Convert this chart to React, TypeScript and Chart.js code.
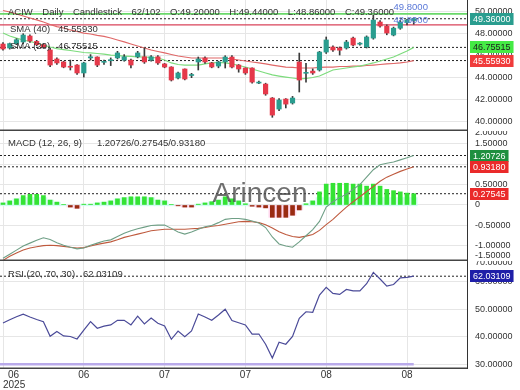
import React, { useEffect, useRef } from 'react';
import { Chart, registerables } from 'chart.js';

Chart.register(...registerables);

// ---------------- data ----------------
const SYMBOL = 'ACIW';
const PERIOD = 'Daily';
const CHART_KIND = 'Candlestick';
const TOTAL_BARS = 102;

const CANDLE_OPEN = [47.06, 46.7, 47.1, 47.25, 47.79, 47.3, 47.0, 46.52, 45.7, 45.43, 45.0, 45.15, 44.43, 45.8, 45.88, 45.4, 45.55, 45.8, 45.6, 45.6, 45.9, 45.9, 45.6, 45.9, 45.25, 44.97, 43.97, 44.79, 44.2, 45.43, 45.79, 45.34, 45.06, 45.43, 45.88, 45.15, 44.88, 44.88, 43.51, 43.42, 42.15, 41.15, 42.06, 41.7, 45.43, 44.4, 44.6, 44.7, 46.33, 46.79, 46.7, 46.7, 47.6, 47.05, 46.8, 47.6, 49.06, 48.7, 47.88, 48.5, 49.0, 49.2];
const CANDLE_HIGH = [47.2, 47.15, 47.55, 48.0, 47.9, 47.4, 47.1, 46.7, 45.8, 45.5, 45.6, 45.2, 45.4, 46.1, 45.9, 45.6, 45.8, 46.4, 46.1, 45.7, 46.4, 46.7, 46.0, 46.0, 45.3, 45.0, 44.5, 44.8, 44.4, 45.88, 45.9, 45.4, 45.5, 46.0, 46.0, 45.2, 44.9, 44.9, 43.7, 43.5, 42.2, 42.1, 42.1, 42.3, 46.24, 45.3, 44.8, 46.4, 47.7, 46.9, 46.8, 47.4, 47.7, 47.2, 47.8, 49.7, 49.2, 48.8, 48.6, 49.2, 49.3, 49.44];
const CANDLE_LOW = [46.5, 46.6, 47.0, 47.1, 47.2, 46.9, 46.7, 45.0, 45.2, 44.9, 44.7, 44.3, 44.06, 45.6, 45.0, 45.2, 45.1, 45.7, 45.5, 44.9, 45.8, 45.3, 45.5, 45.2, 44.9, 43.7, 43.9, 43.8, 44.0, 44.7, 45.3, 44.9, 44.9, 44.88, 44.9, 44.5, 44.3, 43.5, 43.45, 42.4, 40.4, 41.0, 41.25, 41.6, 42.7, 43.6, 44.3, 44.6, 46.2, 46.4, 46.06, 46.6, 46.9, 46.95, 46.7, 47.5, 48.6, 47.9, 47.8, 48.4, 48.8, 48.86];
const CANDLE_CLOSE = [46.61, 47.1, 47.45, 47.88, 47.34, 47.0, 46.8, 45.15, 45.34, 44.97, 44.95, 44.43, 45.34, 45.9, 45.15, 45.45, 45.6, 46.25, 45.9, 45.15, 46.25, 45.43, 45.9, 45.34, 44.97, 43.79, 44.43, 43.88, 44.25, 45.7, 45.43, 44.97, 45.43, 45.88, 44.97, 44.79, 44.43, 43.6, 43.6, 42.52, 40.6, 41.97, 41.6, 42.15, 43.79, 44.45, 44.43, 46.33, 47.43, 46.52, 46.5, 47.24, 46.97, 47.1, 47.7, 49.24, 48.7, 48.06, 48.5, 49.06, 49.25, 49.36];

const SMA20 = [48.06, 47.79, 47.6, 47.43, 47.29, 47.15, 46.97, 46.79, 46.65, 46.56, 46.47, 46.38, 46.29, 46.25, 46.2, 46.15, 46.06, 46.02, 45.97, 45.93, 45.88, 45.88, 45.84, 45.79, 45.61, 45.34, 45.2, 45.15, 45.15, 45.15, 45.25, 45.34, 45.38, 45.34, 45.25, 45.11, 44.97, 44.79, 44.61, 44.43, 44.25, 44.15, 44.06, 43.97, 43.88, 43.93, 44.02, 44.15, 44.43, 44.7, 44.79, 44.88, 44.97, 45.06, 45.2, 45.34, 45.52, 45.7, 45.88, 46.15, 46.43, 46.75515];
const SMA40 = [50.11, 49.97, 49.79, 49.61, 49.43, 49.25, 49.06, 48.84, 48.65, 48.52, 48.34, 48.2, 48.06, 47.97, 47.84, 47.75, 47.61, 47.43, 47.25, 47.06, 46.88, 46.7, 46.52, 46.38, 46.25, 46.11, 45.97, 45.88, 45.79, 45.79, 45.79, 45.79, 45.79, 45.79, 45.7, 45.61, 45.52, 45.43, 45.34, 45.25, 45.15, 45.06, 44.97, 44.93, 44.88, 44.88, 44.88, 44.93, 44.97, 44.97, 45.02, 45.02, 45.06, 45.06, 45.11, 45.15, 45.2, 45.25, 45.29, 45.34, 45.43, 45.5593];

const LEVEL_HIGH = 49.8;
const LEVEL_LOW = 48.8;

const MACD_LINE = [-1.3, -1.2, -1.1, -1.0, -0.93, -0.86, -0.8, -0.84, -0.92, -0.98, -1.03, -1.07, -1.05, -0.98, -0.93, -0.88, -0.85, -0.77, -0.69, -0.63, -0.58, -0.54, -0.5, -0.49, -0.49, -0.57, -0.66, -0.71, -0.66, -0.59, -0.53, -0.5, -0.43, -0.35, -0.33, -0.33, -0.35, -0.39, -0.44, -0.55, -0.78, -0.95, -1.0, -1.03, -0.9, -0.75, -0.6, -0.4, -0.05, 0.08, 0.18, 0.26, 0.38, 0.5, 0.68, 0.86, 0.98, 1.02, 1.05, 1.1, 1.15, 1.20726];
const MACD_SIGNAL = [-1.35, -1.25, -1.17, -1.1, -1.05, -1.02, -0.99, -0.98, -0.99, -1.01, -1.03, -1.05, -1.04, -1.0, -0.96, -0.93, -0.9, -0.85, -0.79, -0.75, -0.71, -0.67, -0.63, -0.61, -0.59, -0.59, -0.59, -0.59, -0.58, -0.57, -0.55, -0.52, -0.5, -0.47, -0.44, -0.41, -0.4, -0.41, -0.43, -0.48, -0.56, -0.65, -0.72, -0.77, -0.79, -0.76, -0.72, -0.62, -0.48, -0.35, -0.2, -0.05, 0.08, 0.2, 0.33, 0.45, 0.58, 0.68, 0.75, 0.82, 0.88, 0.9318];
const MACD_HIST = [0.05, 0.1, 0.15, 0.23, 0.26, 0.26, 0.23, 0.12, 0.07, 0.01, -0.05, -0.08, 0.02, 0.02, 0.05, 0.07, 0.1, 0.15, 0.18, 0.2, 0.2, 0.2, 0.18, 0.12, 0.1, 0.01, -0.02, -0.05, -0.05, 0.02, 0.05, 0.08, 0.12, 0.2, 0.15, 0.1, 0.03, -0.03, -0.05, -0.07, -0.3, -0.3, -0.3, -0.25, -0.12, 0.03, 0.1, 0.32, 0.51, 0.53, 0.53, 0.53, 0.51, 0.51, 0.46, 0.51, 0.46, 0.38, 0.35, 0.32, 0.29, 0.27545];
const MACD_PARAMS = '12, 26, 9';
const MACD_EDGE_TICKS = [2.0, -1.5];

const RSI = [45.0, 46.2, 47.3, 48.2, 47.2, 46.3, 45.5, 40.2, 41.9, 40.3, 40.1, 39.2, 42.4, 45.5, 43.1, 43.9, 44.3, 46.0, 46.0, 44.3, 47.5, 44.7, 46.8, 44.9, 43.9, 39.1, 42.1, 40.0, 42.1, 48.3, 47.2, 46.0, 47.9, 50.0, 45.9, 45.1, 44.3, 41.0, 41.0, 37.3, 32.3, 38.0, 37.3, 40.1, 46.7, 49.1, 48.9, 55.2, 58.0, 55.8, 55.4, 57.2, 56.7, 56.7, 59.3, 63.4, 61.0, 58.4, 59.0, 61.4, 61.6, 62.03109];
const RSI_PARAMS = '20, 70, 30';
const RSI_LOWER = 30;
const RSI_EDGE_TICKS = [70];

const X_TICK_INDEX = [0, 12, 24, 36, 48, 60];
const X_TICK_LABELS = ['06', '06', '07', '07', '08', '08'];
const YEAR_LABEL = '2025';
const WATERMARK = 'Arincen';

// ---------------- styling ----------------
const FONT = '"Liberation Sans", Arial, sans-serif';
const GRID = '#e6e6e6';
const TEXT = '#333333';
const UP = '#2a9d8f';
const DOWN = '#e5394a';
const AXIS_W = 53;
const X_MIN = -0.4456;
const X_MAX = 68.91;

const INDEX = CANDLE_CLOSE.map((_, i) => i);
const LAST = INDEX.length - 1;
const f5 = (v: number) => v.toFixed(5);
const pts = (arr: number[]) => arr.map((y, i) => ({ x: i, y }));
const hline = (v: number, x1: number = X_MAX) => [{ x: X_MIN, y: v }, { x: x1, y: v }];

function dashed(v: number, axis: string) {
  return {
    type: 'line', data: hline(v), borderColor: '#222', borderWidth: 1, borderDash: [2, 2],
    pointRadius: 0, yAxisID: axis, order: 5,
  };
}

function baseX(height: number) {
  return {
    type: 'linear', min: X_MIN, max: X_MAX, offset: false,
    grid: { color: GRID, drawTicks: false, offset: false },
    border: { display: false },
    ticks: { display: false },
    afterBuildTicks: (s: any) => { s.ticks = X_TICK_INDEX.map((v) => ({ value: v })); },
    afterFit: (s: any) => { s.height = height; s.paddingLeft = 0; s.paddingRight = 0; },
  };
}

function baseY(min: number, max: number, step: number, fmt: (v: number) => string) {
  return {
    type: 'linear', position: 'right', min, max, beginAtZero: false,
    grid: { color: GRID, drawTicks: false },
    border: { display: true, color: '#333', width: 1 },
    ticks: {
      stepSize: step, includeBounds: false, padding: 8, color: TEXT, autoSkip: false,
      font: { family: FONT, size: 9 }, callback: (v: any) => fmt(Number(v)),
    },
    afterFit: (s: any) => { s.width = AXIS_W; s.paddingTop = 0; s.paddingBottom = 0; },
  };
}

function drawRow(ctx: CanvasRenderingContext2D, x: number, y: number, items: string[], gap: number) {
  ctx.font = `9.5px ${FONT}`;
  ctx.fillStyle = TEXT;
  ctx.textAlign = 'left';
  ctx.textBaseline = 'middle';
  let cx = x;
  items.forEach((t) => {
    ctx.fillText(t, cx, y);
    cx += ctx.measureText(t).width + gap;
  });
}

function valueBox(ctx: CanvasRenderingContext2D, x: number, y: number, text: string, bg: string, fg: string) {
  ctx.font = `9px ${FONT}`;
  const w = ctx.measureText(text).width + 6;
  ctx.fillStyle = bg;
  ctx.fillRect(x, Math.round(y) - 6, w, 12);
  ctx.fillStyle = fg;
  ctx.textAlign = 'left';
  ctx.textBaseline = 'middle';
  ctx.fillText(text, x + 3, Math.round(y) + 0.5);
}

function separator(ctx: CanvasRenderingContext2D, area: any, y: number) {
  ctx.strokeStyle = '#444';
  ctx.lineWidth = 1.4;
  ctx.beginPath();
  ctx.moveTo(area.left, y);
  ctx.lineTo(area.right, y);
  ctx.stroke();
}

function edgeLabels(ctx: CanvasRenderingContext2D, chart: any, values: number[]) {
  const area = chart.chartArea;
  const ya = chart.scales.y;
  ctx.font = `9px ${FONT}`;
  ctx.fillStyle = TEXT;
  ctx.textAlign = 'left';
  ctx.textBaseline = 'middle';
  values.forEach((v) => {
    const p = Math.min(Math.max(ya.getPixelForValue(v), area.top + 2), area.bottom - 5);
    ctx.fillText(f5(v), area.right + 8, p);
  });
}

const commonOptions = {
  animation: false, responsive: false, maintainAspectRatio: false, events: [],
  layout: { padding: 0 },
  plugins: { legend: { display: false }, tooltip: { enabled: false } },
};

function priceConfig(): any {
  const pricePlugin = {
    id: 'pricePlugin',
    afterDraw(chart: any) {
      const ctx = chart.ctx;
      const area = chart.chartArea;
      const ya = chart.scales.y;
      const xa = chart.scales.x;
      ctx.save();
      separator(ctx, area, area.bottom - 0.7);
      drawRow(ctx, 8, 12, [SYMBOL, PERIOD, CHART_KIND, `${INDEX.length}/${TOTAL_BARS}`,
        `O:${f5(CANDLE_OPEN[LAST])}`, `H:${f5(CANDLE_HIGH[LAST])}`, `L:${f5(CANDLE_LOW[LAST])}`, `C:${f5(CANDLE_CLOSE[LAST])}`], 9.5);
      drawRow(ctx, 10, 29.5, ['SMA (40)', f5(SMA40[LAST])], 8);
      drawRow(ctx, 10, 46.5, ['SMA (20)', f5(SMA20[LAST])], 8);
      ctx.font = `9.5px ${FONT}`;
      ctx.fillStyle = '#5a78d8';
      ctx.textAlign = 'center';
      ctx.textBaseline = 'middle';
      const lx = xa.getPixelForValue(LAST) - 3;
      ctx.fillText(LEVEL_HIGH.toFixed(4), lx, ya.getPixelForValue(LEVEL_HIGH) - 7);
      ctx.fillText(LEVEL_LOW.toFixed(4), lx, ya.getPixelForValue(LEVEL_LOW) - 5);
      const bx = area.right + 3;
      valueBox(ctx, bx, ya.getPixelForValue(CANDLE_CLOSE[LAST]), f5(CANDLE_CLOSE[LAST]),
        CANDLE_CLOSE[LAST] >= CANDLE_OPEN[LAST] ? UP : DOWN, '#ffffff');
      valueBox(ctx, bx, ya.getPixelForValue(SMA20[LAST]), f5(SMA20[LAST]), '#45ea45', '#1e1e1e');
      valueBox(ctx, bx, ya.getPixelForValue(SMA40[LAST]), f5(SMA40[LAST]), '#f03b3b', '#ffffff');
      ctx.restore();
    },
  };
  return {
    type: 'bar',
    data: {
      datasets: [
        {
          type: 'bar', data: INDEX.map((i) => ({ x: i, y: [CANDLE_OPEN[i], CANDLE_CLOSE[i]] })),
          backgroundColor: INDEX.map((i) => (CANDLE_CLOSE[i] >= CANDLE_OPEN[i] ? UP : DOWN)),
          barThickness: 4.5, grouped: false, minBarLength: 1, order: 0,
        },
        {
          type: 'bar', data: INDEX.map((i) => ({ x: i, y: [CANDLE_LOW[i], CANDLE_HIGH[i]] })),
          backgroundColor: '#3a3a3a', barThickness: 1, grouped: false, order: 1,
        },
        { type: 'line', data: pts(SMA20), borderColor: '#7ddc7d', borderWidth: 1.2, pointRadius: 0, order: 2 },
        { type: 'line', data: pts(SMA40), borderColor: '#e06868', borderWidth: 1.2, pointRadius: 0, order: 2 },
        { type: 'line', data: hline(LEVEL_HIGH), borderColor: '#6ad86a', borderWidth: 1.6, pointRadius: 0, order: 3 },
        { type: 'line', data: hline(LEVEL_LOW), borderColor: '#d9435a', borderWidth: 1.2, pointRadius: 0, order: 3 },
        dashed(CANDLE_CLOSE[LAST], 'y'),
        dashed(SMA20[LAST], 'y'),
        dashed(SMA40[LAST], 'y'),
      ],
    },
    options: {
      ...commonOptions,
      scales: { x: baseX(0), y: baseY(39.1545, 51.0636, 2, f5) },
    },
    plugins: [pricePlugin],
  };
}

function macdConfig(): any {
  const macdPlugin = {
    id: 'macdPlugin',
    afterDatasetsDraw(chart: any) {
      const ctx = chart.ctx;
      const area = chart.chartArea;
      ctx.save();
      ctx.font = `28px ${FONT}`;
      ctx.fillStyle = 'rgba(75,75,75,0.8)';
      ctx.textAlign = 'center';
      ctx.textBaseline = 'alphabetic';
      ctx.fillText(WATERMARK, chart.width / 2, area.top + 71);
      ctx.restore();
    },
    afterDraw(chart: any) {
      const ctx = chart.ctx;
      const area = chart.chartArea;
      const ya = chart.scales.y;
      ctx.save();
      separator(ctx, area, area.bottom - 0.7);
      drawRow(ctx, 8, 12.5, [`MACD (${MACD_PARAMS})`,
        `${f5(MACD_LINE[LAST])}/${f5(MACD_HIST[LAST])}/${f5(MACD_SIGNAL[LAST])}`], 15);
      edgeLabels(ctx, chart, MACD_EDGE_TICKS);
      const bx = area.right + 3;
      valueBox(ctx, bx, ya.getPixelForValue(MACD_LINE[LAST]), f5(MACD_LINE[LAST]), '#1f8f3f', '#ffffff');
      valueBox(ctx, bx, ya.getPixelForValue(MACD_SIGNAL[LAST]), f5(MACD_SIGNAL[LAST]), '#ea2a2a', '#ffffff');
      valueBox(ctx, bx, ya.getPixelForValue(MACD_HIST[LAST]), f5(MACD_HIST[LAST]), '#ea2a2a', '#ffffff');
      ctx.restore();
    },
  };
  return {
    type: 'bar',
    data: {
      datasets: [
        { type: 'line', data: pts(MACD_LINE), borderColor: '#6f9f86', borderWidth: 1.1, pointRadius: 0, order: 0 },
        { type: 'line', data: pts(MACD_SIGNAL), borderColor: '#bf5a3e', borderWidth: 1.1, pointRadius: 0, order: 0 },
        {
          type: 'bar', data: INDEX.map((i) => ({ x: i, y: MACD_HIST[i] })),
          backgroundColor: INDEX.map((i) => (MACD_HIST[i] >= 0 ? '#34e334' : '#9a2c12')),
          barThickness: 4, grouped: false, order: 1,
        },
        {
          type: 'bar',
          data: INDEX.map((i) => ({ x: i, y: MACD_HIST[i] >= 0 ? [-0.02, Math.min(MACD_HIST[i], 0.18)] : [MACD_HIST[i], 0] })),
          backgroundColor: INDEX.map((i) => (MACD_HIST[i] >= 0 ? '#d2fbf1' : '#ffd6ec')),
          barThickness: 7, grouped: false, order: 2,
        },
        dashed(MACD_LINE[LAST], 'y'),
        dashed(MACD_SIGNAL[LAST], 'y'),
        dashed(MACD_HIST[LAST], 'y'),
      ],
    },
    options: {
      ...commonOptions,
      scales: { x: baseX(0), y: baseY(-1.3659, 1.8049, 0.5, (v) => (v === 0 ? '0' : f5(v))) },
    },
    plugins: [macdPlugin],
  };
}

function rsiConfig(): any {
  const rsiPlugin = {
    id: 'rsiPlugin',
    afterDraw(chart: any) {
      const ctx = chart.ctx;
      const area = chart.chartArea;
      const ya = chart.scales.y;
      const xa = chart.scales.x;
      ctx.save();
      separator(ctx, area, area.bottom + 0.3);
      drawRow(ctx, 8, 13.5, [`RSI (${RSI_PARAMS})`, f5(RSI[LAST])], 8);
      edgeLabels(ctx, chart, RSI_EDGE_TICKS);
      valueBox(ctx, area.right + 3, ya.getPixelForValue(RSI[LAST]), f5(RSI[LAST]), '#1f1fa8', '#ffffff');
      ctx.font = `10px ${FONT}`;
      ctx.fillStyle = TEXT;
      ctx.textBaseline = 'middle';
      X_TICK_INDEX.forEach((v, k) => {
        const px = xa.getPixelForValue(v);
        if (k === 0) {
          ctx.textAlign = 'left';
          ctx.fillText(X_TICK_LABELS[k], px + 5, area.bottom + 7);
        } else {
          ctx.textAlign = 'center';
          ctx.fillText(X_TICK_LABELS[k], px, area.bottom + 7);
        }
      });
      ctx.textAlign = 'left';
      ctx.fillText(YEAR_LABEL, xa.getPixelForValue(X_TICK_INDEX[0]), area.bottom + 17);
      ctx.restore();
    },
  };
  return {
    type: 'line',
    data: {
      datasets: [
        { type: 'line', data: pts(RSI), borderColor: '#4a4a98', borderWidth: 1.2, pointRadius: 0, order: 0 },
        { type: 'line', data: hline(RSI_LOWER, LAST), borderColor: '#b9aaea', borderWidth: 2.5, pointRadius: 0, order: 1 },
        dashed(RSI[LAST], 'y'),
      ],
    },
    options: {
      ...commonOptions,
      scales: { x: baseX(22), y: baseY(28.65, 67.56, 10, f5) },
    },
    plugins: [rsiPlugin],
  };
}

export default function App() {
  const priceRef = useRef<HTMLCanvasElement>(null);
  const macdRef = useRef<HTMLCanvasElement>(null);
  const rsiRef = useRef<HTMLCanvasElement>(null);

  useEffect(() => {
    Chart.defaults.font.family = FONT;
    const charts = [
      new Chart(priceRef.current as HTMLCanvasElement, priceConfig()),
      new Chart(macdRef.current as HTMLCanvasElement, macdConfig()),
      new Chart(rsiRef.current as HTMLCanvasElement, rsiConfig()),
    ];
    return () => charts.forEach((c) => c.destroy());
  }, []);

  return (
    <div style={{ position: 'fixed', left: 0, top: 0, width: 520, height: 390, background: '#ffffff' }}>
      <canvas ref={priceRef} width={520} height={131} style={{ position: 'absolute', left: 0, top: 0, width: 520, height: 131 }} />
      <canvas ref={macdRef} width={520} height={130} style={{ position: 'absolute', left: 0, top: 131, width: 520, height: 130 }} />
      <canvas ref={rsiRef} width={520} height={129} style={{ position: 'absolute', left: 0, top: 261, width: 520, height: 129 }} />
    </div>
  );
}
